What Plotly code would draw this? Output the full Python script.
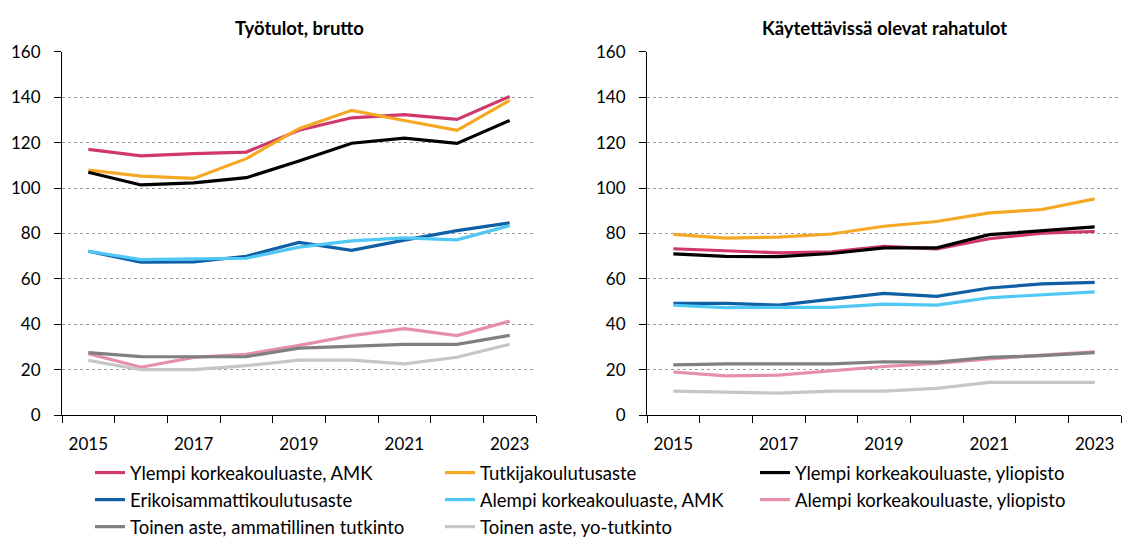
import plotly.graph_objects as go

years = [2015, 2016, 2017, 2018, 2019, 2020, 2021, 2022, 2023]
year_labels = ["2015", "2017", "2019", "2021", "2023"]
label_years = [2015, 2017, 2019, 2021, 2023]
y_ticks = [0, 20, 40, 60, 80, 100, 120, 140, 160]

series_names = [
    "Ylempi korkeakouluaste, AMK",
    "Tutkijakoulutusaste",
    "Ylempi korkeakouluaste, yliopisto",
    "Erikoisammattikoulutusaste",
    "Alempi korkeakouluaste, AMK",
    "Alempi korkeakouluaste, yliopisto",
    "Toinen aste, ammatillinen tutkinto",
    "Toinen aste, yo-tutkinto",
]

# Työtulot, brutto
gross_ylempi_amk = [117.1, 114.2, 115.2, 115.9, 125.5, 131.0, 132.4, 130.3, 140.4]
gross_tutkija = [108.0, 105.3, 104.3, 113.0, 126.2, 134.3, 129.8, 125.5, 138.7]
gross_ylempi_yo = [107.0, 101.4, 102.3, 104.6, 112.0, 119.8, 122.0, 119.7, 129.8]
gross_erikois = [72.2, 67.4, 67.5, 70.0, 76.1, 72.6, 77.1, 81.3, 84.7]
gross_alempi_amk = [72.2, 68.5, 68.8, 69.1, 74.0, 76.8, 78.1, 77.2, 83.5]
gross_alempi_yo = [27.1, 21.1, 25.4, 26.8, 30.7, 35.0, 38.1, 35.0, 41.4]
gross_toinen_amm = [27.5, 25.8, 25.7, 25.8, 29.5, 30.4, 31.2, 31.2, 35.1]
gross_toinen_yo = [24.1, 20.0, 20.0, 21.8, 24.2, 24.2, 22.6, 25.5, 31.2]

# Käytettävissä olevat rahatulot
disp_ylempi_amk = [73.3, 72.3, 71.5, 71.9, 74.3, 73.2, 77.7, 80.2, 80.9]
disp_tutkija = [79.6, 78.0, 78.4, 79.8, 83.2, 85.3, 89.1, 90.6, 95.3]
disp_ylempi_yo = [71.0, 69.9, 69.8, 71.2, 73.7, 73.7, 79.5, 81.3, 82.9]
disp_erikois = [49.2, 49.2, 48.5, 51.2, 53.6, 52.3, 56.0, 57.8, 58.5]
disp_alempi_amk = [48.4, 47.4, 47.5, 47.5, 48.9, 48.5, 51.7, 52.9, 54.3]
disp_alempi_yo = [19.0, 17.3, 17.6, 19.5, 21.4, 22.8, 24.8, 26.4, 27.9]
disp_toinen_amm = [22.1, 22.6, 22.6, 22.6, 23.5, 23.3, 25.4, 26.2, 27.5]
disp_toinen_yo = [10.6, 10.1, 9.7, 10.6, 10.6, 11.8, 14.4, 14.4, 14.4]

gross = [gross_ylempi_amk, gross_tutkija, gross_ylempi_yo, gross_erikois,
         gross_alempi_amk, gross_alempi_yo, gross_toinen_amm, gross_toinen_yo]
disp = [disp_ylempi_amk, disp_tutkija, disp_ylempi_yo, disp_erikois,
        disp_alempi_amk, disp_alempi_yo, disp_toinen_amm, disp_toinen_yo]

colors = ["#D0386D", "#F5A823", "#000000", "#0F5FA5",
          "#50C8F5", "#E58FAD", "#808080", "#C6C6C6"]
# legend column for each series (3 columns, row-major order as in reference)
legend_ids = ["legend", "legend2", "legend3", "legend", "legend2", "legend3", "legend", "legend2"]

FONT = "Lato"
TICK_SIZE = 17
TEXT_SIZE = 18.5

fig = go.Figure()
for i, name in enumerate(series_names):
    fig.add_trace(go.Scatter(
        x=years, y=gross[i], mode="lines", name=name,
        line=dict(color=colors[i], width=3.2),
        xaxis="x", yaxis="y", legend=legend_ids[i], legendgroup=name,
        showlegend=True,
    ))
for i, name in enumerate(series_names):
    fig.add_trace(go.Scatter(
        x=years, y=disp[i], mode="lines", name=name,
        line=dict(color=colors[i], width=3.2),
        xaxis="x2", yaxis="y2", legendgroup=name, showlegend=False,
    ))

# The page body has an 8px margin; figure coordinates below are screen - 8.
W, H = 1131, 544
OFF = 8
ytop, ybot = 42.3 - OFF, 420.0 - OFF
ydom = [1 - ybot / H, 1 - ytop / H]
xl0, xl1 = 62 - OFF, 536 - OFF
xr0, xr1 = 647 - OFF, 1121 - OFF

xaxis_common = dict(
    type="linear", range=[2014.5, 2023.5],
    tickvals=label_years, ticktext=year_labels,
    ticks="", showgrid=False, zeroline=False,
    showline=True, linecolor="black", linewidth=1,
    tickfont=dict(family=FONT, size=TICK_SIZE, color="#000000"),
    ticklabelstandoff=14,
    minor=dict(tickvals=[2014.5 + k for k in range(10)], ticks="outside",
               ticklen=7, tickcolor="black", tickwidth=1, showgrid=False),
    fixedrange=True,
)
yaxis_common = dict(
    range=[0, 160], tickvals=y_ticks,
    ticks="outside", ticklen=7, tickcolor="black", tickwidth=1,
    showline=True, linecolor="black", linewidth=1,
    showgrid=True, gridcolor="#9A9A9A", griddash="dot", gridwidth=1,
    zeroline=False,
    tickfont=dict(family=FONT, size=TICK_SIZE, color="#000000"),
    ticklabelstandoff=10,
    fixedrange=True,
)

fig.update_layout(
    width=W, height=H,
    margin=dict(l=0, r=0, t=0, b=0),
    paper_bgcolor="white", plot_bgcolor="white",
    font=dict(family=FONT, size=TEXT_SIZE, color="#000000"),
    xaxis=dict(domain=[xl0 / W, xl1 / W], anchor="y", **xaxis_common),
    yaxis=dict(domain=ydom, anchor="x", **yaxis_common),
    xaxis2=dict(domain=[xr0 / W, xr1 / W], anchor="y2", **xaxis_common),
    yaxis2=dict(domain=ydom, anchor="x2", **yaxis_common),
    showlegend=True,
)

leg_common = dict(
    orientation="v", yanchor="top", xanchor="left",
    font=dict(family=FONT, size=TEXT_SIZE, color="#000000"),
    bgcolor="rgba(0,0,0,0)", borderwidth=0,
    traceorder="grouped", tracegroupgap=0, itemwidth=30,
)
ly = 1 - (460.5 - OFF) / H
fig.update_layout(
    legend=dict(x=(90 - OFF) / W, y=ly, **leg_common),
    legend2=dict(x=(440 - OFF) / W, y=ly, **leg_common),
    legend3=dict(x=(755 - OFF) / W, y=ly, **leg_common),
)

title_y = 1 - (17 - OFF) / H
fig.add_annotation(text="<b>Työtulot, brutto</b>", xref="paper", yref="paper",
                   x=(xl0 + xl1) / 2 / W, y=title_y, xanchor="center", yanchor="middle",
                   showarrow=False, font=dict(family=FONT, size=TEXT_SIZE, color="#000000"))
fig.add_annotation(text="<b>Käytettävissä olevat rahatulot</b>", xref="paper", yref="paper",
                   x=(xr0 + xr1) / 2 / W, y=title_y, xanchor="center", yanchor="middle",
                   showarrow=False, font=dict(family=FONT, size=TEXT_SIZE, color="#000000"))

fig.write_html("out.html")
